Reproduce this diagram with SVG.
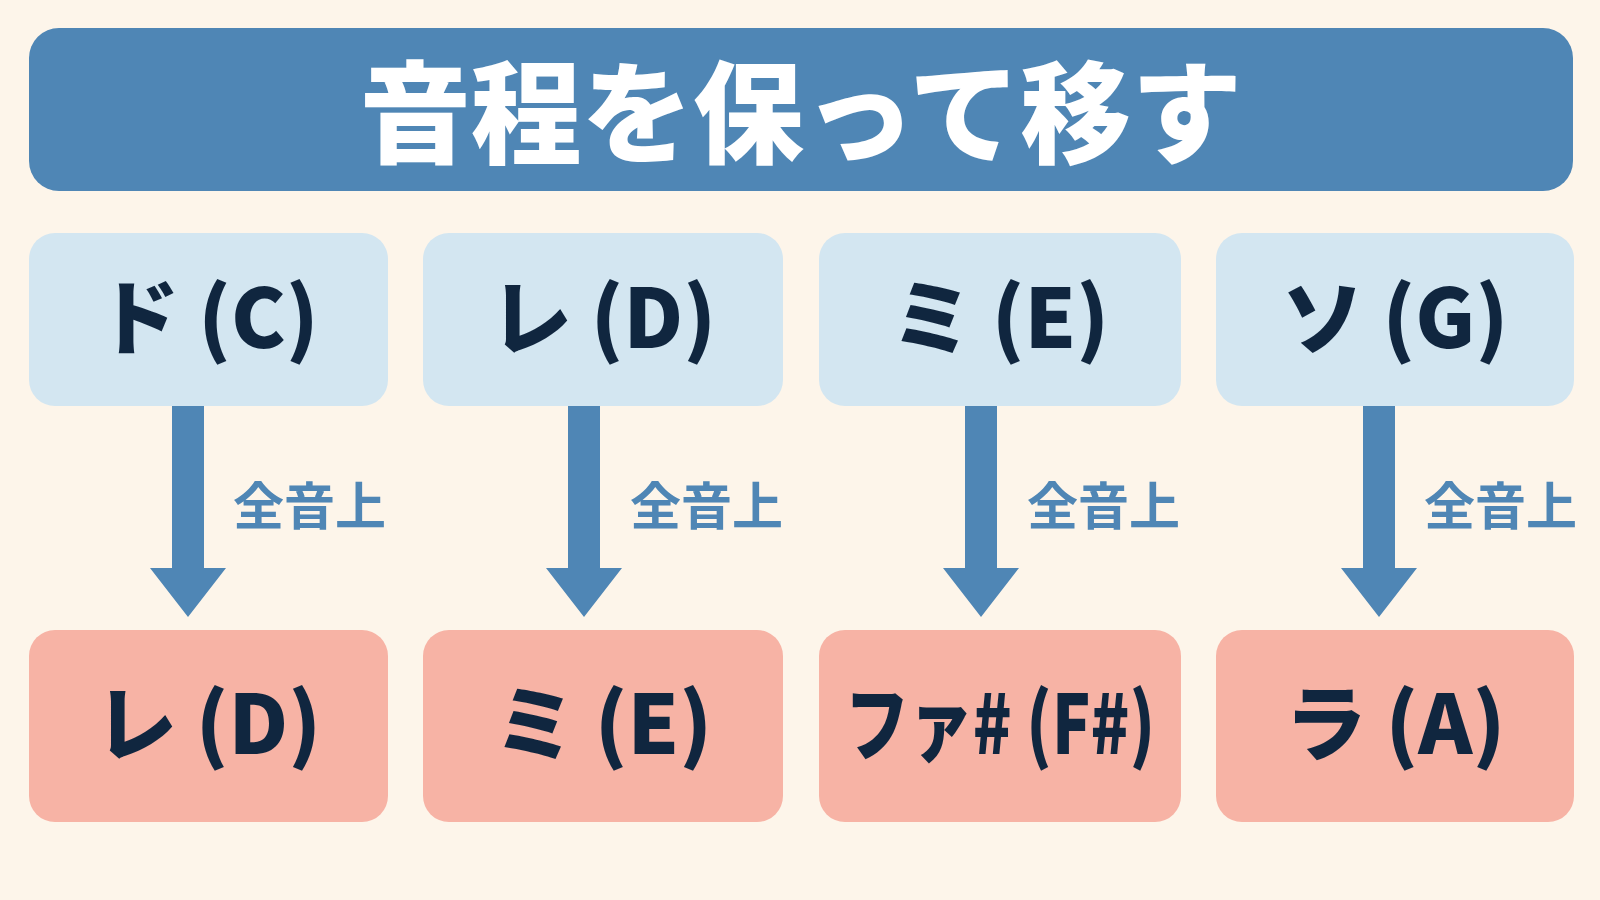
<svg xmlns="http://www.w3.org/2000/svg" width="1600" height="900" viewBox="0 0 1600 900">
<style>
.t{font-family:"Noto Sans CJK JP","Noto Sans",sans-serif;font-weight:900;text-anchor:middle}
.top{fill:#d3e6f1}.bot{fill:#f7b3a5}
.nt{font-size:82px;fill:#10263f}
.lbl{font-family:"Noto Sans CJK JP",sans-serif;font-weight:700;font-size:51px;fill:#4f86b5}
.arr{fill:#4f86b5}
</style>
<rect width="1600" height="900" fill="#fdf5ea"/>
<g id="title"><rect x="29" y="28" width="1544" height="163" rx="30" fill="#4f86b5"/>
<text class="t" x="801" y="155" font-size="111" fill="#fff">音程を保って移す</text></g>
<g id="n1"><rect class="top" x="29" y="233" width="359" height="173" rx="26"/><text class="t nt" x="208" y="348">ド (C)</text></g>
<g id="n2"><rect class="top" x="423" y="233" width="360" height="173" rx="26"/><text class="t nt" x="603" y="348">レ (D)</text></g>
<g id="n3"><rect class="top" x="819" y="233" width="362" height="173" rx="26"/><text class="t nt" x="1000" y="348">ミ (E)</text></g>
<g id="n4"><rect class="top" x="1216" y="233" width="358" height="173" rx="26"/><text class="t nt" x="1395" y="348">ソ (G)</text></g>
<g id="m1"><rect class="bot" x="29" y="630" width="359" height="192" rx="26"/><text class="t nt" x="208" y="754">レ (D)</text></g>
<g id="m2"><rect class="bot" x="423" y="630" width="360" height="192" rx="26"/><text class="t nt" x="603" y="754">ミ (E)</text></g>
<g id="m3"><rect class="bot" x="819" y="630" width="362" height="192" rx="26"/><text class="t nt" x="1000" y="754" font-size="72" textLength="310" lengthAdjust="spacingAndGlyphs">ファ# (F#)</text></g>
<g id="m4"><rect class="bot" x="1216" y="630" width="358" height="192" rx="26"/><text class="t nt" x="1395" y="754">ラ (A)</text></g>
<g id="connectors">
<path class="arr" d="M172 406h32v162h22l-38 49l-38-49h22z"/>
<path class="arr" d="M568 406h32v162h22l-38 49l-38-49h22z"/>
<path class="arr" d="M965 406h32v162h22l-38 49l-38-49h22z"/>
<path class="arr" d="M1363 406h32v162h22l-38 49l-38-49h22z"/>
<text class="lbl" x="233" y="525">全音上</text>
<text class="lbl" x="630" y="525">全音上</text>
<text class="lbl" x="1027" y="525">全音上</text>
<text class="lbl" x="1424" y="525">全音上</text>
</g>
</svg>
